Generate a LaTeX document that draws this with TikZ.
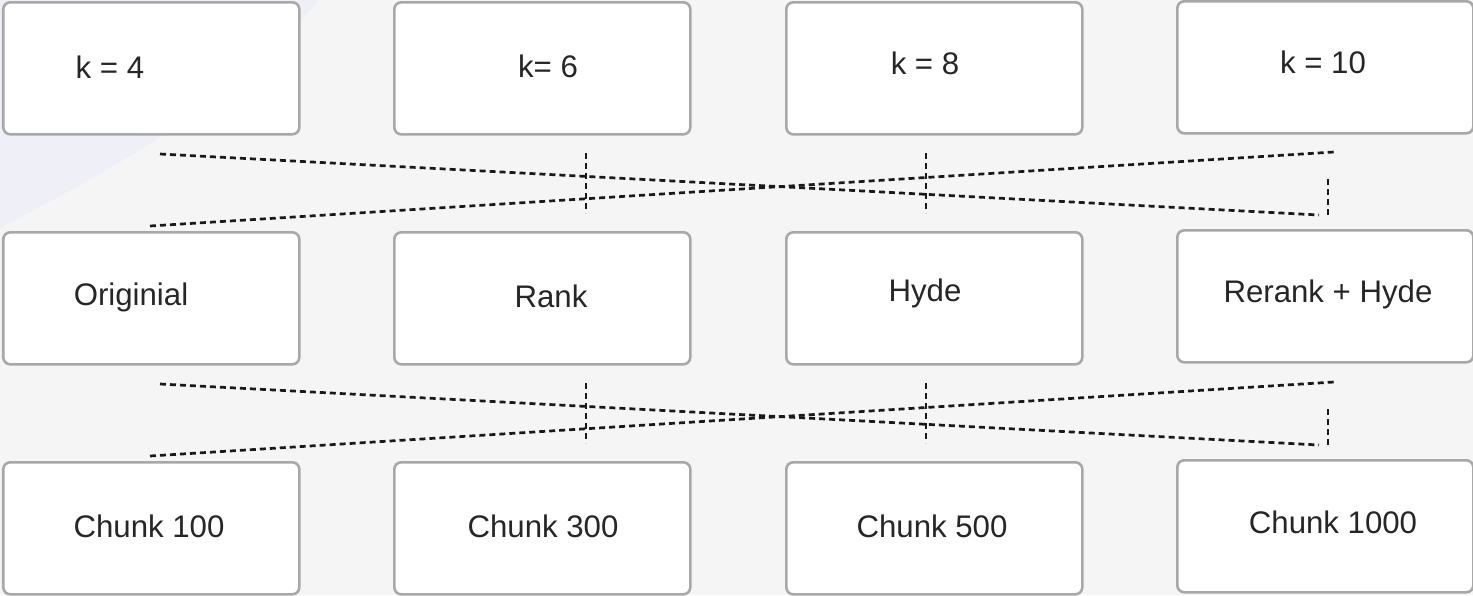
\documentclass[tikz,border=0pt]{standalone}
\usepackage{fontspec}
\setmainfont{Liberation Sans}
\begin{document}
\begin{tikzpicture}[x=0.5pt,y=-0.5pt,
  card/.style={draw=cardline,line width=1.3pt,fill=white,rounded corners=3.5pt,
    minimum width=148pt,minimum height=66pt,inner sep=0pt,anchor=north west},
  lbl/.style={font=\fontsize{15.6}{18}\selectfont,text=black!85,inner sep=0pt},
  link/.style={line width=1.35pt,dash pattern=on 3pt off 2pt,black!90}]
\definecolor{bgcol}{HTML}{F5F5F6}
\definecolor{tint}{HTML}{EFEFF7}
\definecolor{cardline}{HTML}{A8A8A8}
% backdrop
\fill[bgcol] (0,0) rectangle (1473,595);
\fill[tint] (0,0) -- (318,0) .. controls (250,90) and (130,160) .. (0,228) -- cycle;
\useasboundingbox (0,0) rectangle (1473,595);

% cards: top row
\node[card] (k4)  at (2,1) {};
\node[card] (k6)  at (393,1) {};
\node[card] (k8)  at (785,1) {};
\node[card] (k10) at (1176,0) {};
% cards: middle row
\node[card] (orig) at (2,231) {};
\node[card] (rank) at (393,231) {};
\node[card] (hyde) at (785,231) {};
\node[card] (rrh)  at (1176,229) {};
% cards: bottom row
\node[card] (c100)  at (2,461) {};
\node[card] (c300)  at (393,461) {};
\node[card] (c500)  at (785,461) {};
\node[card] (c1000) at (1176,459) {};

% labels
\node[lbl] (tk4)  at (110,67) {k = 4};
\node[lbl] (tk6)  at (548,66) {k= 6};
\node[lbl] (tk8)  at (925,63) {k = 8};
\node[lbl] (tk10) at (1323,62) {k = 10};
\node[lbl] (torig) at (131,297) {Originial};
\node[lbl] (trank) at (551,296) {Rank};
\node[lbl] (thyde) at (925,293) {Hyde};
\node[lbl] (trrh)  at (1328,294) {Rerank + Hyde};
\node[lbl] (tc100)  at (149,526) {Chunk 100};
\node[lbl] (tc300)  at (543,526) {Chunk 300};
\node[lbl] (tc500)  at (932,526) {Chunk 500};
\node[lbl] (tc1000) at (1333,522) {Chunk 1000};

% crossing links between rows
\foreach \r/\dy in {a/0,b/230}{
  \coordinate (\r A1) at (160,154+\dy);
  \coordinate (\r A2) at (1319,215+\dy);
  \coordinate (\r A3) at (1328,215+\dy);
  \coordinate (\r A4) at (1328,176+\dy);
  \coordinate (\r B1) at (150,226+\dy);
  \coordinate (\r B2) at (1334,152+\dy);
  \coordinate (\r V1) at (586,153+\dy);
  \coordinate (\r V2) at (586,213+\dy);
  \coordinate (\r W1) at (926,153+\dy);
  \coordinate (\r W2) at (926,213+\dy);
  \draw[link] (\r A1) -- (\r A2);
  \draw[link] (\r A3) -- (\r A4);
  \draw[link] (\r B1) -- (\r B2);
  \draw[link] (\r V1) -- (\r V2);
  \draw[link] (\r W1) -- (\r W2);
}
\end{tikzpicture}
\end{document}
